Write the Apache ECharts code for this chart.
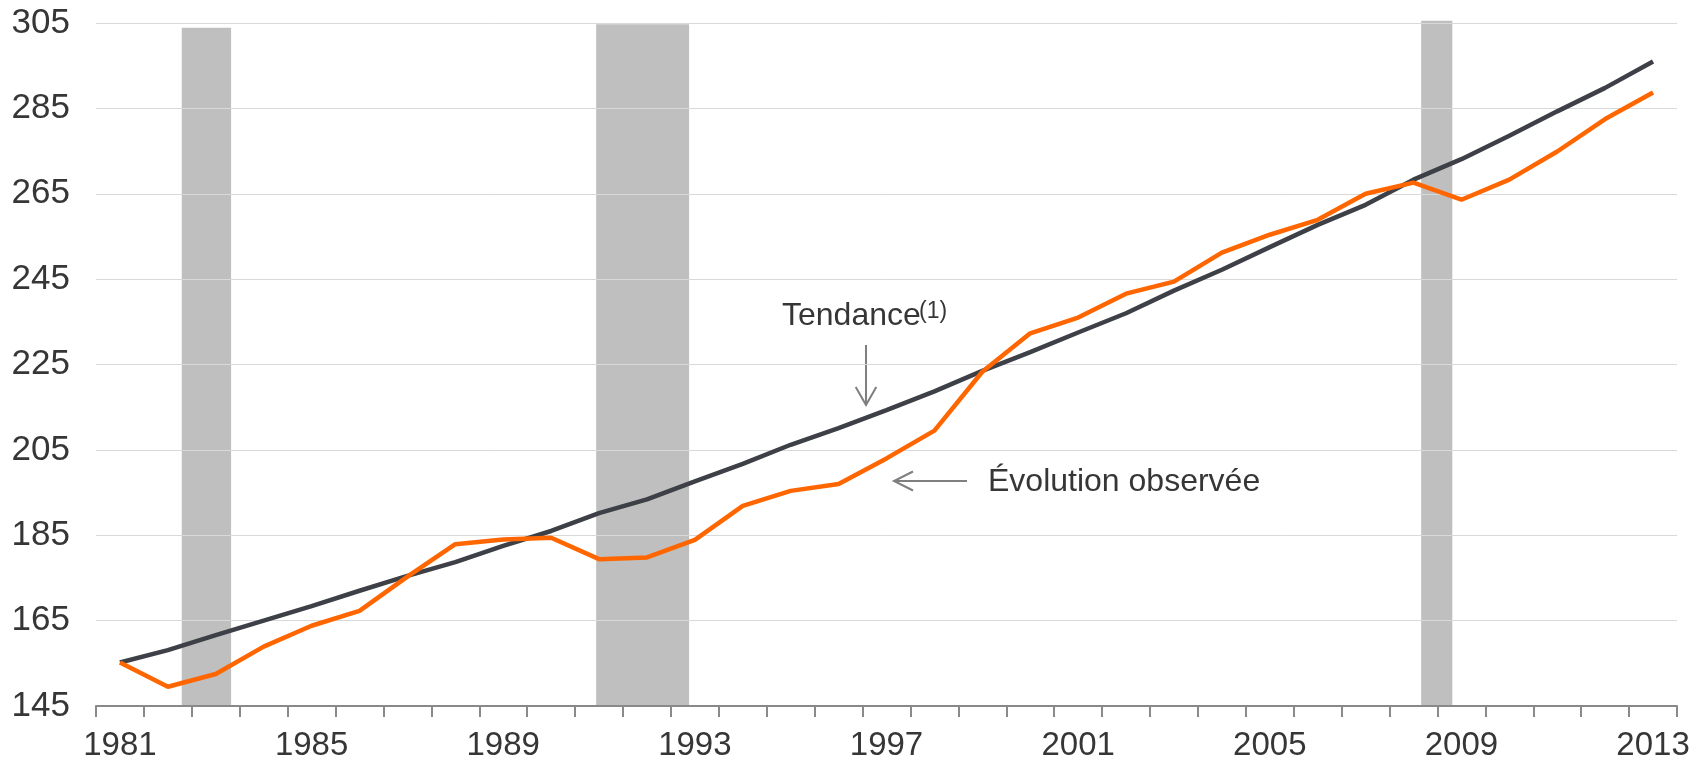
<!DOCTYPE html>
<html>
<head>
<meta charset="utf-8">
<script src="https://cdn.jsdelivr.net/npm/echarts@6/dist/echarts.min.js"></script>
<style>
  html, body { margin: 0; padding: 0; background: #fff; }
  #chart { width: 1706px; height: 772px; }
</style>
</head>
<body>
<div id="chart"></div>
<script>
// years on the category axis
var years = []
for (var y = 1981; y <= 2013; y++) years.push(String(y))

var observed = [155.2, 149.5, 152.5, 158.9, 163.8, 167.3, 175.3, 182.9, 184.0, 184.4,
  179.4, 179.8, 183.9, 191.9, 195.4, 197.0, 203.0, 209.5, 223.3, 232.3,
  236.0, 241.6, 244.4, 251.2, 255.4, 258.9, 265.0, 267.6, 263.6, 268.3,
  274.9, 282.5, 288.7]

var trend = [155.2, 158.1, 161.6, 165.0, 168.4, 172.0, 175.5, 178.7, 182.5, 186.0,
  190.2, 193.4, 197.6, 201.7, 206.2, 210.1, 214.3, 218.7, 223.5, 227.9,
  232.5, 237.0, 242.3, 247.2, 252.5, 257.7, 262.4, 268.3, 273.1, 278.6,
  284.3, 289.8, 296.0]

// shaded periods (start, end in fractional years, top value)
var shadeStart = [1982.29, 1990.94, 2008.16]
var shadeEnd = [1983.32, 1992.88, 2008.81]
var shadeTop = [303.9, 304.7, 305.5]

var yTicks = [145, 165, 185, 205, 225, 245, 265, 285, 305]

var font = 'Liberation Sans, Arial, sans-serif'
var textColor = '#363636'

var myChart = echarts.init(document.getElementById('chart'))

var option = {
  animation: false,
  grid: { left: 96, right: 29, top: 23, bottom: 66 },
  xAxis: [
    {
      type: 'category',
      data: years,
      boundaryGap: true,
      axisLine: { lineStyle: { color: '#898989', width: 2 } },
      axisTick: { show: true, interval: 0, length: 11, lineStyle: { color: '#898989', width: 2 } },
      axisLabel: { interval: 3, color: textColor, fontSize: 33, fontFamily: font, margin: 23 },
      splitLine: { show: false }
    },
    {
      type: 'value',
      min: 1980.5,
      max: 2013.5,
      show: false
    }
  ],
  yAxis: {
    type: 'value',
    min: 145,
    max: 305,
    axisLine: { show: false },
    axisTick: { show: false, customValues: yTicks },
    axisLabel: { color: textColor, fontSize: 35, fontFamily: font, margin: 26, customValues: yTicks },
    splitLine: { lineStyle: { color: '#d9d9d9', width: 1 } }
  },
  series: [
    {
      type: 'custom',
      xAxisIndex: 1,
      z: -1,
      silent: true,
      data: shadeStart.map(function (s, i) { return [s, shadeEnd[i], shadeTop[i]] }),
      encode: { x: [0, 1], y: 2 },
      renderItem: function (params, api) {
        var p0 = api.coord([api.value(0), api.value(2)])
        var p1 = api.coord([api.value(1), 145])
        return {
          type: 'rect',
          shape: { x: p0[0], y: p0[1], width: p1[0] - p0[0], height: p1[1] - p0[1] },
          style: { fill: '#bfbfbf' }
        }
      }
    },
    {
      name: 'Tendance',
      type: 'line',
      data: trend,
      symbol: 'none',
      lineStyle: { color: '#3d4047', width: 4.5 },
      z: 3
    },
    {
      name: 'Évolution observée',
      type: 'line',
      data: observed,
      symbol: 'none',
      lineStyle: { color: '#ff6600', width: 4.5 },
      z: 4
    }
  ],
  graphic: [
    {
      type: 'text', left: 782, top: 300,
      style: { text: 'Tendance', fontSize: 32, fontFamily: font, fill: textColor }
    },
    {
      type: 'text', left: 919, top: 300,
      style: { text: '(1)', fontSize: 23, fontFamily: font, fill: textColor }
    },
    {
      type: 'text', left: 988, top: 466,
      style: { text: 'Évolution observée', fontSize: 32, fontFamily: font, fill: textColor }
    },
    {
      type: 'polyline',
      shape: { points: [[866, 345], [866, 405]] },
      style: { stroke: '#7f7f7f', lineWidth: 2 }
    },
    {
      type: 'polyline',
      shape: { points: [[855.7, 387], [866, 405], [876.3, 387]] },
      style: { stroke: '#7f7f7f', lineWidth: 2, fill: null }
    },
    {
      type: 'polyline',
      shape: { points: [[967, 481], [894, 481]] },
      style: { stroke: '#7f7f7f', lineWidth: 2 }
    },
    {
      type: 'polyline',
      shape: { points: [[913, 471.5], [894, 481], [913, 490.5]] },
      style: { stroke: '#7f7f7f', lineWidth: 2, fill: null }
    }
  ]
}

myChart.setOption(option)
</script>
</body>
</html>
